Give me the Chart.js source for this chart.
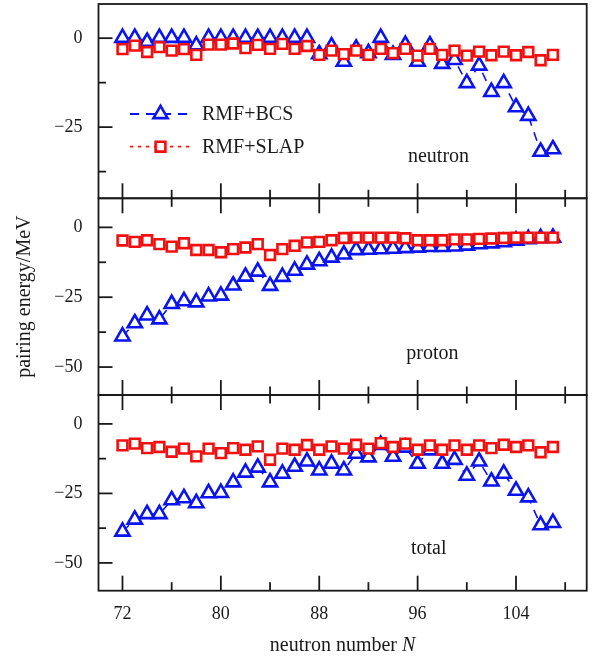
<!DOCTYPE html>
<html><head><meta charset="utf-8">
<script src="https://cdn.jsdelivr.net/npm/chart.js@4.4.0/dist/chart.umd.min.js"></script>
<style>html,body{margin:0;padding:0;background:#fff;} canvas{display:block;}</style>
</head><body>
<canvas id="c" width="594" height="657"></canvas>
<script>
// ---------------- data ----------------
const N = [72,73,74,75,76,77,78,79,80,81,82,83,84,85,86,87,88,89,90,91,92,93,94,95,96,97,98,99,100,101,102,103,104,105,106,107];

const neutronBCS  = [0.1,0.1,-1.0,0.1,0.1,0.1,-2.0,0.1,0.1,0.1,0.1,0.1,0.1,0.1,0.1,0.1,-4.5,-2.3,-6.6,-2.9,-4.2,0.1,-4.7,-1.9,-6.6,-2.0,-7.2,-6.1,-12.6,-7.7,-15.1,-12.6,-19.4,-21.8,-31.9,-31.2];
const neutronSLAP = [-3.1,-2.1,-3.9,-2.5,-3.5,-3.1,-4.7,-1.8,-1.8,-1.5,-2.8,-1.9,-3.0,-1.6,-3.0,-2.2,-4.7,-3.5,-4.5,-3.5,-4.7,-3.0,-4.2,-3.0,-4.9,-3.0,-4.7,-3.5,-4.9,-3.8,-4.8,-3.8,-4.8,-3.9,-6.2,-4.7];

const protonBCS   = [-39.0,-34.3,-31.5,-32.9,-27.4,-26.4,-26.8,-24.7,-24.4,-20.8,-17.6,-15.8,-20.9,-17.7,-15.5,-13.3,-12.1,-10.8,-9.7,-8.1,-8.0,-7.8,-7.6,-7.4,-7.2,-7.0,-7.0,-6.8,-6.5,-6.0,-5.7,-5.3,-4.7,-4.2,-3.8,-3.7];
const protonSLAP  = [-4.7,-5.2,-4.6,-6.0,-6.9,-5.7,-8.1,-8.1,-8.9,-7.8,-7.2,-6.0,-9.9,-7.8,-6.6,-5.4,-5.2,-4.6,-3.8,-3.7,-3.7,-3.7,-3.7,-3.9,-4.6,-4.6,-4.6,-4.3,-4.3,-4.1,-4.0,-3.8,-3.7,-3.7,-3.7,-3.7];

const totalBCS    = [-38.7,-34.4,-32.4,-32.4,-27.4,-26.7,-28.5,-24.9,-24.8,-21.0,-17.5,-15.7,-21.0,-17.9,-15.4,-13.5,-16.7,-14.3,-16.7,-10.7,-12.0,-7.5,-11.8,-8.5,-14.3,-9.5,-14.3,-12.9,-18.6,-13.5,-20.7,-17.9,-24.0,-26.4,-36.4,-35.6];
const totalSLAP   = [-7.7,-7.1,-8.7,-8.3,-10.0,-8.9,-11.7,-8.9,-10.5,-8.7,-9.3,-8.1,-12.9,-8.9,-9.3,-7.6,-9.3,-8.1,-8.9,-7.5,-8.9,-6.9,-8.3,-7.1,-9.3,-7.7,-9.3,-7.7,-9.3,-7.7,-8.7,-7.5,-8.3,-7.7,-10.2,-8.3];

// ticks
const xLabelTicks = [72,80,88,96,104];
const xTickMarks  = [72,76,80,84,88,92,96,100,104,108];
const yLabelTicks = [0,-25,-50];
const yTickMarks  = [0,-12.5,-25,-37.5,-50];

const seriesNames = ['RMF+BCS','RMF+SLAP'];
const panelNames  = ['neutron','proton','total'];
const panelLabelN = [97.7,97.2,96.9];
const xTitle = ['neutron number ','N'];
const yTitle = 'pairing energy/MeV';

// ---------------- styles ----------------
const FONT = "'Liberation Serif','Times New Roman',serif";
const BLUE = '#0a14f0', RED = '#f01010', INK = '#1a1a1a';

const pts = arr => N.map((n,i)=>({x:n,y:arr[i]}));
function bcs(data, axis){ return {label:seriesNames[0], data:pts(data), yAxisID:axis, order:2,
  borderColor:BLUE, borderWidth:1.6, borderDash:[9,7], pointStyle:'triangle', pointRadius:8.2,
  pointBorderWidth:2.6, pointBorderColor:BLUE, pointBackgroundColor:'#fff', tension:0, fill:false}; }
function slap(data, axis){ return {label:seriesNames[1], data:pts(data), yAxisID:axis, order:1,
  borderColor:RED, borderWidth:1.6, borderDash:[2.5,4.5], pointStyle:'rect', pointRadius:6.9,
  pointBorderWidth:2.6, pointBorderColor:RED, pointBackgroundColor:'#fff', tension:0, fill:false}; }

function yAxis(min, max, weight, title){
  return {type:'linear', position:'left', stack:'panels', stackWeight:weight, min:min, max:max,
    grid:{display:false, drawTicks:false}, border:{display:false},
    afterBuildTicks: s => { s.ticks = yLabelTicks.filter(v=>v>=min&&v<=max).map(v=>({value:v})); },
    afterFit: s => { s.width = 98.5; s.paddingTop = 0; s.paddingBottom = 0; },
    ticks:{padding:16, color:INK, font:{family:FONT,size:18}, callback:v => v===0?'0':'\u2212'+Math.abs(v)},
    title: title ? {display:true, text:title, color:INK, font:{family:FONT,size:20}, padding:{top:13,bottom:0}} : {display:false}
  };
}

const decor = {
  id:'decor',
  afterDraw(chart){
    const ctx = chart.ctx, xs = chart.scales.x, ca = chart.chartArea;
    const panels = ['yN','yP','yT'].map(id=>chart.scales[id]);
    ctx.save();
    ctx.strokeStyle = INK; ctx.lineWidth = 1.8; ctx.setLineDash([]);
    const seg=(a,b,c,d)=>{ctx.beginPath();ctx.moveTo(a,b);ctx.lineTo(c,d);ctx.stroke();};
    panels.forEach((s,i)=>{
      yTickMarks.forEach(v=>{
        if (v < s.min || v > s.max) return;
        const py = s.getPixelForValue(v);
        seg(ca.left, py, ca.left + (v%25===0 ? 14 : 7.5), py);
      });
      xTickMarks.forEach(v=>{
        const px = xs.getPixelForValue(v);
        const len = xLabelTicks.includes(v) ? 15 : 8.5;
        seg(px, s.bottom, px, s.bottom-len);
        if (i>0) seg(px, s.top, px, s.top+len);
      });
      ctx.strokeRect(ca.left, s.top, ca.right-ca.left, s.bottom-s.top);
      // panel label
      ctx.fillStyle = INK; ctx.font = '20px '+FONT; ctx.textAlign='center'; ctx.textBaseline='alphabetic';
      ctx.fillText(panelNames[i], xs.getPixelForValue(panelLabelN[i]), s.bottom-36.5);
    });
    // legend
    const sN = panels[0];
    const lx0 = ca.left+31.5, lx1 = ca.left+91.5, mx = ca.left+62, tx = ca.left+103.5;
    const ly = [sN.top+110, sN.top+142.7];
    const dsets = seriesNames.map(nm => chart.data.datasets.find(d=>d.label===nm));
    dsets.forEach((d,k)=>{
      ctx.strokeStyle = d.borderColor; ctx.lineWidth = 1.8;
      ctx.setLineDash(k===0?[9,7]:[3,5]);
      seg(lx0, ly[k], lx1, ly[k]);
      ctx.setLineDash([]);
      ctx.lineWidth = d.pointBorderWidth; ctx.fillStyle = '#fff'; ctx.strokeStyle = d.pointBorderColor;
      Chart.helpers.drawPoint(ctx, {pointStyle:d.pointStyle, radius:d.pointRadius, borderWidth:d.pointBorderWidth, rotation:0}, mx, ly[k]);
      ctx.fillStyle = INK; ctx.font = '20px '+FONT; ctx.textAlign='left'; ctx.textBaseline='middle';
      ctx.fillText(d.label, tx, ly[k]+1);
    });
    // x title with italic N
    ctx.font = '20px '+FONT; ctx.textBaseline='alphabetic'; ctx.textAlign='left';
    const w1 = ctx.measureText(xTitle[0]).width;
    ctx.font = 'italic 20px '+FONT;
    const w2 = ctx.measureText(xTitle[1]).width;
    const cx = (ca.left+ca.right)/2, x0 = cx-(w1+w2)/2, by = chart.height-6;
    ctx.fillStyle = INK;
    ctx.font = '20px '+FONT; ctx.fillText(xTitle[0], x0, by);
    ctx.font = 'italic 20px '+FONT; ctx.fillText(xTitle[1], x0+w1, by);
    ctx.restore();
  }
};

new Chart(document.getElementById('c'), {
  type:'line',
  data:{datasets:[
    slap(neutronSLAP,'yN'), bcs(neutronBCS,'yN'),
    slap(protonSLAP,'yP'),  bcs(protonBCS,'yP'),
    slap(totalSLAP,'yT'),   bcs(totalBCS,'yT')
  ]},
  options:{
    responsive:false, animation:false, devicePixelRatio:1,
    layout:{autoPadding:false, padding:{top:4,right:7.3,left:0,bottom:0}},
    plugins:{legend:{display:false}, tooltip:{enabled:false}},
    scales:{
      x:{type:'linear', position:'bottom', min:70.05, max:109.75,
        grid:{display:false, drawTicks:false}, border:{display:false},
        afterBuildTicks: s => { s.ticks = xLabelTicks.map(v=>({value:v})); },
        afterFit: s => { s.height = 66.3; s.paddingLeft = 0; s.paddingRight = 0; },
        ticks:{padding:13, color:INK, font:{family:FONT,size:18}, maxRotation:0, autoSkip:false}},
      yT: yAxis(-60, 10.4, 195.7, null),
      yP: yAxis(-60, 10.4, 196.7, yTitle),
      yN: yAxis(-45, 9.6, 194.3, null)
    }
  },
  plugins:[decor]
});
</script>
</body></html>
